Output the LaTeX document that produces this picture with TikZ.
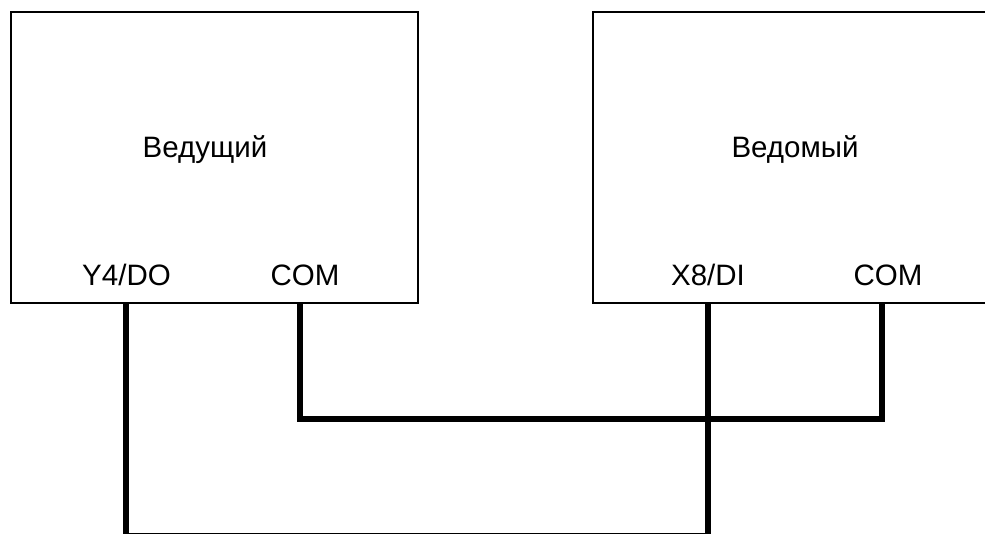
\documentclass[tikz,border=0pt]{standalone}
\usepackage{fontspec}
\setmainfont{Liberation Sans}
\begin{document}
\begin{tikzpicture}[x=1pt,y=-1pt,
  box/.style={draw=black,line width=2pt,rectangle,inner sep=0pt,anchor=north west},
  wire/.style={draw=black,line width=5.5pt,line join=miter},
  lbl/.style={font=\fontsize{29.5}{32}\selectfont,anchor=base,inner sep=0pt}]
\useasboundingbox (0,0) rectangle (985,533);
\clip (0,0) rectangle (985,533);
\node[box,minimum width=407pt,minimum height=291pt] (master) at (10,11) {};
\node[box,minimum width=420pt,minimum height=291pt] (slave) at (592,11) {};
\node[lbl] (mname) at (205,157) {Ведущий};
\node[lbl] (sname) at (795,157) {Ведомый};
\node[lbl] (y4) at (126.5,285) {Y4/DO};
\node[lbl] (mcom) at (305,285) {COM};
\node[lbl] (x8) at (708,285) {X8/DI};
\node[lbl] (scom) at (888,285) {COM};
\coordinate (pY) at (126,302);
\coordinate (pMC) at (300,302);
\coordinate (pX) at (708,302);
\coordinate (pSC) at (882,302);
\coordinate (botY) at (126,536.2);
\coordinate (midC) at (300,419);
\draw[wire] (pY) -- (botY) -| (pX);
\draw[wire] (pMC) -- (midC) -| (pSC);
\end{tikzpicture}
\end{document}
